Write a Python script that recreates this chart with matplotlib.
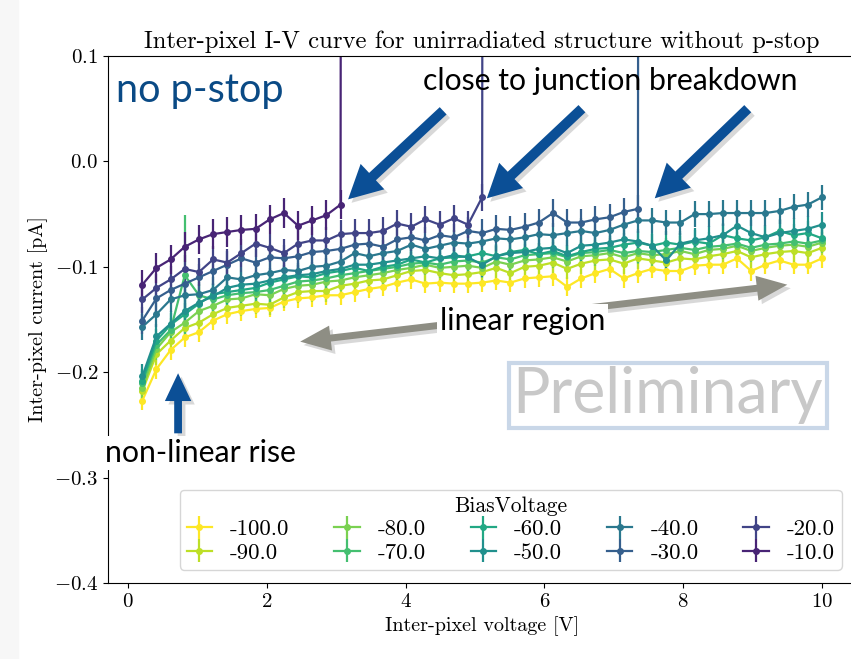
import numpy as np
import matplotlib.pyplot as plt
import matplotlib.patheffects as pe
from matplotlib.patches import Rectangle

plt.rcParams['font.family'] = 'serif'
plt.rcParams['font.serif'] = ['cmr10']
plt.rcParams['mathtext.fontset'] = 'cm'
plt.rcParams['axes.formatter.use_mathtext'] = True
plt.rcParams['axes.unicode_minus'] = True

# inter-pixel voltage sweep [V]
voltage = np.linspace(0, 10, 50)[1:]

bias = [-100, -90, -80, -70, -60, -50, -40, -30, -20, -10]

# inter-pixel current [pA]; the last entry of the -30/-20/-10 V runs is the
# point where the junction breaks down (far above the plotted range)
current_m100 = [-0.227, -0.197, -0.179, -0.167, -0.162, -0.151, -0.145, -0.142, -0.140, -0.139,
                -0.133, -0.130, -0.129, -0.127, -0.127, -0.124, -0.121, -0.119, -0.115, -0.112,
                -0.116, -0.115, -0.116, -0.116, -0.115, -0.113, -0.115, -0.111, -0.110, -0.109,
                -0.119, -0.111, -0.106, -0.102, -0.111, -0.106, -0.102, -0.104, -0.104, -0.099,
                -0.098, -0.098, -0.092, -0.104, -0.098, -0.094, -0.098, -0.098, -0.092]
current_m90 = [-0.218, -0.183, -0.170, -0.158, -0.153, -0.145, -0.139, -0.137, -0.135, -0.136,
               -0.129, -0.124, -0.123, -0.123, -0.118, -0.116, -0.113, -0.112, -0.108, -0.104,
               -0.103, -0.106, -0.108, -0.107, -0.105, -0.101, -0.106, -0.100, -0.099, -0.096,
               -0.102, -0.097, -0.094, -0.093, -0.097, -0.092, -0.094, -0.096, -0.092, -0.093,
               -0.090, -0.088, -0.085, -0.091, -0.088, -0.086, -0.085, -0.087, -0.082]
current_m80 = [-0.215, -0.178, -0.162, -0.153, -0.142, -0.137, -0.131, -0.130, -0.126, -0.127,
               -0.121, -0.118, -0.117, -0.114, -0.113, -0.110, -0.108, -0.106, -0.103, -0.101,
               -0.098, -0.101, -0.100, -0.099, -0.101, -0.095, -0.098, -0.094, -0.093, -0.091,
               -0.095, -0.090, -0.089, -0.087, -0.091, -0.087, -0.089, -0.088, -0.085, -0.088,
               -0.084, -0.083, -0.080, -0.085, -0.082, -0.080, -0.079, -0.081, -0.077]
current_m70 = [-0.210, -0.174, -0.160, -0.108, -0.127, -0.131, -0.127, -0.125, -0.124, -0.122,
               -0.118, -0.114, -0.113, -0.111, -0.108, -0.106, -0.104, -0.102, -0.100, -0.097,
               -0.096, -0.098, -0.095, -0.094, -0.096, -0.091, -0.093, -0.089, -0.088, -0.087,
               -0.091, -0.087, -0.086, -0.084, -0.087, -0.085, -0.086, -0.084, -0.082, -0.084,
               -0.081, -0.080, -0.078, -0.082, -0.079, -0.078, -0.076, -0.078, -0.075]
current_m60 = [-0.208, -0.170, -0.155, -0.145, -0.135, -0.126, -0.124, -0.122, -0.120, -0.115,
               -0.112, -0.109, -0.110, -0.106, -0.104, -0.101, -0.104, -0.100, -0.098, -0.093,
               -0.096, -0.092, -0.091, -0.090, -0.087, -0.090, -0.086, -0.084, -0.088, -0.085,
               -0.090, -0.086, -0.083, -0.082, -0.079, -0.077, -0.080, -0.077, -0.079, -0.076,
               -0.078, -0.070, -0.073, -0.075, -0.072, -0.066, -0.070, -0.068, -0.073]
current_m50 = [-0.204, -0.166, -0.154, -0.142, -0.134, -0.128, -0.120, -0.117, -0.116, -0.113,
               -0.110, -0.108, -0.107, -0.104, -0.102, -0.098, -0.098, -0.096, -0.094, -0.092,
               -0.090, -0.092, -0.089, -0.091, -0.098, -0.090, -0.087, -0.086, -0.083, -0.082,
               -0.087, -0.080, -0.079, -0.077, -0.074, -0.076, -0.080, -0.094, -0.078, -0.075,
               -0.073, -0.070, -0.061, -0.068, -0.072, -0.068, -0.066, -0.064, -0.060]
current_m40 = [-0.157, -0.145, -0.131, -0.127, -0.126, -0.122, -0.110, -0.112, -0.108, -0.106,
               -0.103, -0.104, -0.100, -0.099, -0.095, -0.087, -0.090, -0.087, -0.085, -0.079,
               -0.083, -0.080, -0.077, -0.078, -0.076, -0.073, -0.074, -0.072, -0.069, -0.070,
               -0.068, -0.066, -0.068, -0.065, -0.060, -0.056, -0.056, -0.058, -0.058, -0.050,
               -0.050, -0.049, -0.049, -0.049, -0.049, -0.047, -0.043, -0.041, -0.034]
current_m30 = [-0.151, -0.130, -0.122, -0.116, -0.110, -0.104, -0.098, -0.092, -0.096, -0.091,
               -0.092, -0.090, -0.086, -0.085, -0.083, -0.079, -0.078, -0.081, -0.074, -0.072,
               -0.075, -0.070, -0.072, -0.066, -0.068, -0.064, -0.065, -0.062, -0.058, -0.049,
               -0.058, -0.058, -0.055, -0.053, -0.048, -0.045, 12.0]
current_m20 = [-0.131, -0.120, -0.112, -0.102, -0.105, -0.093, -0.096, -0.087, -0.078, -0.082,
               -0.087, -0.078, -0.075, -0.075, -0.069, -0.068, -0.068, -0.066, -0.059, -0.062,
               -0.055, -0.060, -0.054, -0.060, -0.034, 12.0]
current_m10 = [-0.117, -0.101, -0.093, -0.081, -0.074, -0.069, -0.067, -0.065, -0.064, -0.055,
               -0.049, -0.061, -0.056, -0.051, -0.041, 12.0]

currents = [current_m100, current_m90, current_m80, current_m70, current_m60,
            current_m50, current_m40, current_m30, current_m20, current_m10]

# measurement uncertainty per run [pA]
errors = [0.009, 0.010, 0.010, 0.011, 0.011, 0.012, 0.012, 0.013, 0.013, 0.014]
# one noisy reading in the -70 V run
err_m70 = [0.011] * len(current_m70)
err_m70[3] = 0.057

fig = plt.figure(figsize=(8.51, 6.59), dpi=100)
fig.patches.append(Rectangle((0, 0), 18 / 851, 1, transform=fig.transFigure,
                             color='#f7f7f7', zorder=-1))
ax = fig.add_axes([108 / 851, 76 / 659, 748 / 851, 527 / 659])

cmap = plt.get_cmap('viridis_r')
for b, cur, err in zip(bias, currents, errors):
    n = len(cur)
    yerr = err_m70 if b == -70 else err
    ax.errorbar(voltage[:n], cur, yerr=yerr, color=cmap((b + 100) / 100),
                marker='o', ms=4, lw=1.6, elinewidth=1.6, capsize=0,
                label=f'{b:.1f}')

ax.set_xlim(-0.29, 10.49)
ax.set_ylim(-0.4, 0.1)
ax.set_yticks([-0.4, -0.3, -0.2, -0.1, 0.0, 0.1])
ax.set_xticks([0, 2, 4, 6, 8, 10])
ax.tick_params(labelsize=15)
ax.set_xlabel('Inter-pixel voltage [V]', fontsize=14.5)
ax.set_ylabel('Inter-pixel current [pA]', fontsize=14.5)
ax.set_title('Inter-pixel I-V curve for unirradiated structure without p-stop',
             fontsize=17.8, pad=6)

leg = ax.legend(title='BiasVoltage', ncol=5, fontsize=16.5, title_fontsize=15.5,
                loc='lower right', bbox_to_anchor=(0.981, 0.025), borderaxespad=0,
                handlelength=1.1, columnspacing=1.95, labelspacing=0.15,
                handletextpad=0.8, borderpad=0.3)
leg.get_frame().set_edgecolor('#cccccc')

# slide annotations
blue = '#0b4f96'
shadow = [pe.withSimplePatchShadow(offset=(2.5, -2.5), shadow_rgbFace='#666666', alpha=0.25)]
sans = 'Lato'

ax.text(-0.17, 0.067, 'no p-stop', color='#0a4a85', fontsize=28.5, family=sans,
        ha='left', va='center')
ax.text(6.95, 0.076, 'close to junction breakdown', color='black', fontsize=21.7,
        family=sans, ha='center', va='center')

for tail, head in [((4.54, 0.048), (3.17, -0.036)),
                   ((6.54, 0.050), (5.17, -0.035)),
                   ((8.93, 0.050), (7.59, -0.035))]:
    ax.annotate('', xy=head, xytext=tail,
                arrowprops=dict(arrowstyle='simple,head_length=1.2,head_width=1.25,tail_width=0.36',
                                fc=blue, ec='none', mutation_scale=20,
                                shrinkA=0, shrinkB=0, path_effects=shadow))

# up arrow marking the non-linear rise
ax.annotate('', xy=(0.72, -0.201), xytext=(0.72, -0.258),
            arrowprops=dict(arrowstyle='simple,head_length=1.0,head_width=0.95,tail_width=0.28',
                            fc=blue, ec='none', mutation_scale=20,
                            shrinkA=0, shrinkB=0, path_effects=shadow))
ax.text(1.04, -0.277, 'non-linear rise', color='black', fontsize=21.8, family=sans,
        ha='center', va='center', clip_on=False,
        bbox=dict(boxstyle='square,pad=0.1', fc='white', ec='none'))

# linear region arrows
grey = '#8e8e84'
for end in [(2.48, -0.171), (9.50, -0.117)]:
    ax.annotate('', xy=end, xytext=(5.98, -0.144),
                arrowprops=dict(arrowstyle='simple,head_length=1.1,head_width=0.9,tail_width=0.25',
                                fc=grey, ec='none', mutation_scale=20,
                                shrinkA=0, shrinkB=0, path_effects=shadow))
ax.text(5.68, -0.151, 'linear region', color='black', fontsize=21.8, family=sans,
        ha='center', va='center',
        bbox=dict(boxstyle='square,pad=0.1', fc='white', ec='none'))

ax.text(7.78, -0.222, 'Preliminary', color='#c8c8c8', fontsize=45, family=sans,
        ha='center', va='center',
        bbox=dict(boxstyle='square,pad=0.06', fc='white', ec='#c9d7e8', lw=3))

fig.savefig('out.png', dpi=100)
